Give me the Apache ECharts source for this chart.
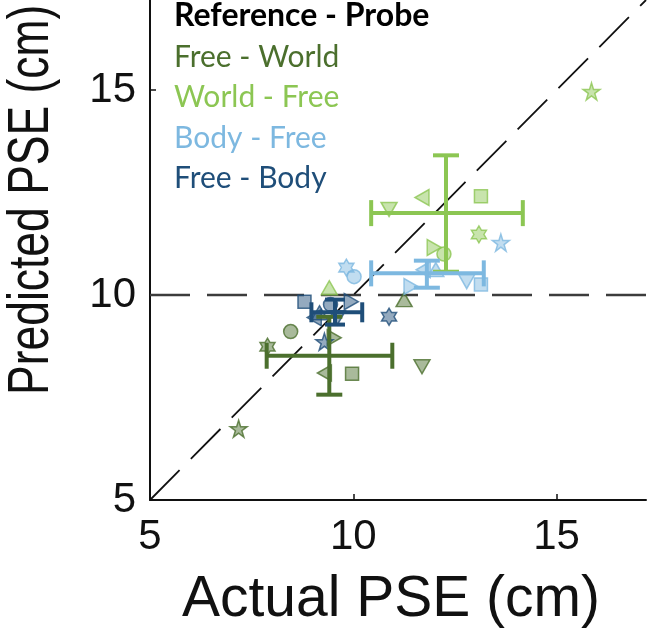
<!DOCTYPE html>
<html><head><meta charset="utf-8">
<script src="https://cdn.jsdelivr.net/npm/echarts@6/dist/echarts.min.js"></script>
<style>html,body{margin:0;padding:0;background:#fff}#c{width:650px;height:641px}</style>
</head><body><div id="c"></div>
<script>
// ---- data ----
const axisMin = 5, axisMax = 17.2;
const tickValues = [5, 10, 15];
const groupNames = ['Free - World', 'World - Free', 'Body - Free', 'Free - Body'];
const groupColors = ['#4b6f2d', '#8cc653', '#7db8e0', '#1f4e79'];
const shapeOrder = ['circle', 'square', 'up', 'down', 'left', 'right', 'star', 'hexagram'];
// per-subject actual (x) and predicted (y) PSE, in shapeOrder
const freeWorldX = [8.46, 9.97, 11.25, 11.69, 9.29, 9.53, 7.18, 7.89];
const freeWorldY = [9.11, 8.08, 9.89, 8.25, 8.10, 8.96, 6.74, 8.74];
const worldFreeX = [12.23, 13.14, 9.41, 10.88, 11.69, 11.99, 15.86, 13.09];
const worldFreeY = [11.00, 12.41, 10.18, 12.09, 12.38, 11.16, 14.97, 11.48];
const bodyFreeX = [10.02, 13.14, 12.03, 12.79, 11.72, 11.42, 13.63, 9.83];
const bodyFreeY = [10.45, 10.26, 10.62, 10.33, 10.62, 10.21, 11.28, 10.67];
const freeBodyX = [9.44, 8.80, 9.17, 9.61, 9.04, 9.95, 9.29, 10.88];
const freeBodyY = [9.77, 9.84, 9.57, 9.45, 9.45, 9.84, 8.86, 9.47];
// group means with error ranges: [xMean, yMean, xLow, xHigh, yLow, yHigh]
const freeWorldErr = [9.41, 8.52, 7.87, 10.96, 7.57, 9.47];
const worldFreeErr = [12.28, 12.00, 10.44, 14.17, 10.57, 13.41];
const bodyFreeErr = [11.81, 10.53, 10.44, 13.21, 10.18, 10.84];
const freeBodyErr = [9.55, 9.58, 8.97, 10.22, 9.28, 9.89];
const refLineY = 10;
const legendTitle = 'Reference - Probe';
const xTitle = 'Actual PSE (cm)';
const yTitle = 'Predicted PSE (cm)';

// ---- build ----
const symbolPaths = {
  circle: 'circle',
  square: 'rect',
  up: 'path://M0,-1 L1,1 L-1,1 Z',
  down: 'path://M-1,-1 L1,-1 L0,1 Z',
  left: 'path://M1,-1 L1,1 L-1,0 Z',
  right: 'path://M-1,-1 L-1,1 L1,0 Z',
  star: 'path://M0,-1 L0.2245,-0.309 L0.9511,-0.309 L0.3633,0.118 L0.5878,0.809 L0,0.382 L-0.5878,0.809 L-0.3633,0.118 L-0.9511,-0.309 L-0.2245,-0.309 Z',
  hexagram: 'path://M0,-1 L0.2887,-0.5 L0.866,-0.5 L0.577,0 L0.866,0.5 L0.2887,0.5 L0,1 L-0.2887,0.5 L-0.866,0.5 L-0.577,0 L-0.866,-0.5 L-0.2887,-0.5 Z'
};
const symbolSizes = {circle: 14, square: 13, up: [16, 14], down: [16, 14], left: [14, 16], right: [14, 16], star: 17, hexagram: [15, 17]};

const xs = [freeWorldX, worldFreeX, bodyFreeX, freeBodyX];
const ys = [freeWorldY, worldFreeY, bodyFreeY, freeBodyY];
const errs = [freeWorldErr, worldFreeErr, bodyFreeErr, freeBodyErr];
const capHalf = [13, 13, 13, 10];

function hexToRgba(h, a) {
  const n = parseInt(h.slice(1), 16);
  return 'rgba(' + ((n >> 16) & 255) + ',' + ((n >> 8) & 255) + ',' + (n & 255) + ',' + a + ')';
}

const series = [];
// reference lines
series.push({
  type: 'line', data: [[axisMin, refLineY], [axisMax, refLineY]], symbol: 'none', silent: true,
  lineStyle: {color: '#3c3c3c', width: 2.5, type: [40, 17]}, z: 1
});
series.push({
  type: 'line', data: [[axisMin, axisMin], [axisMax, axisMax]], symbol: 'none', silent: true,
  lineStyle: {color: '#111', width: 1.8, type: [42, 16]}, z: 1
});
// points
for (let g = 0; g < 4; g++) {
  const data = shapeOrder.map((s, i) => ({
    value: [xs[g][i], ys[g][i]],
    symbol: symbolPaths[s],
    symbolSize: symbolSizes[s]
  }));
  series.push({
    type: 'scatter', name: groupNames[g], data: data, z: 3,
    itemStyle: {color: hexToRgba(groupColors[g], 0.6), borderColor: groupColors[g], borderWidth: 1.5}
  });
}
// error bars
for (let g = 0; g < 4; g++) {
  const col = groupColors[g];
  const ch = capHalf[g];
  series.push({
    type: 'custom', name: groupNames[g] + ' mean', z: 5,
    data: [errs[g]],
    encode: {x: [0, 2, 3], y: [1, 4, 5]},
    renderItem: function (params, api) {
      const xl = api.coord([api.value(2), api.value(1)]);
      const xh = api.coord([api.value(3), api.value(1)]);
      const yl = api.coord([api.value(0), api.value(4)]);
      const yh = api.coord([api.value(0), api.value(5)]);
      const st = {stroke: col, lineWidth: 4, fill: null};
      const L = (x1, y1, x2, y2) => ({type: 'line', shape: {x1, y1, x2, y2}, style: st});
      return {type: 'group', children: [
        L(xl[0], xl[1], xh[0], xh[1]),
        L(yl[0], yl[1], yh[0], yh[1]),
        L(xl[0], xl[1] - ch, xl[0], xl[1] + ch),
        L(xh[0], xh[1] - ch, xh[0], xh[1] + ch),
        L(yl[0] - ch, yl[1], yl[0] + ch, yl[1]),
        L(yh[0] - ch, yh[1], yh[0] + ch, yh[1])
      ]};
    }
  });
}

const axisCommon = {
  type: 'value', min: axisMin, max: axisMax, interval: 5,
  splitLine: {show: false},
  axisLine: {show: true, onZero: false, lineStyle: {color: '#111', width: 2}},
  axisTick: {show: true, inside: true, length: 6, customValues: tickValues, lineStyle: {color: '#111', width: 1.5}},
  axisLabel: {customValues: tickValues, color: '#111', fontFamily: 'Liberation Sans', fontSize: 42}
};

const legendGraphics = [{
  type: 'text', x: 174, y: 0,
  style: {text: legendTitle, fill: '#000', font: 'bold 32px Lato', textVerticalAlign: 'top'}
}].concat(groupNames.map((n, i) => ({
  type: 'text', x: 174, y: 42 + i * 40.5,
  style: {text: n, fill: groupColors[i], font: '30px Lato', textVerticalAlign: 'top'}
})));

const option = {
  animation: false,
  backgroundColor: '#fff',
  grid: {left: 150, right: 4, top: 0, bottom: 141, containLabel: false},
  xAxis: Object.assign({}, axisCommon, {axisLabel: Object.assign({}, axisCommon.axisLabel, {margin: 16})}),
  yAxis: Object.assign({}, axisCommon, {axisLabel: Object.assign({}, axisCommon.axisLabel, {margin: 14})}),
  series: series,
  graphic: legendGraphics.concat([
    {type: 'text', x: 391, y: 572,
     style: {text: xTitle, fill: '#111', font: '57px "Liberation Sans"', textAlign: 'center', textVerticalAlign: 'top'}},
    {type: 'text', x: 4, y: 395, rotation: Math.PI / 2, scaleX: 0.78, originX: 0, originY: 0,
     style: {text: yTitle, fill: '#111', font: '57px "Liberation Sans"', textAlign: 'left', textVerticalAlign: 'top'}}
  ])
};
echarts.init(document.getElementById('c')).setOption(option);
</script></body></html>
